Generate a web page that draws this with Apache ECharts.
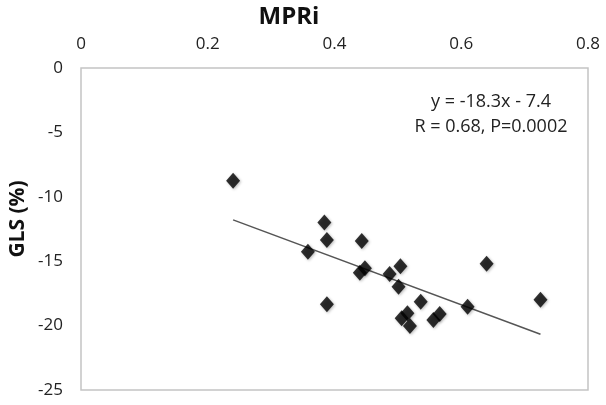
<!DOCTYPE html>
<html>
<head>
<meta charset="utf-8">
<script src="https://cdn.jsdelivr.net/npm/echarts@6/dist/echarts.min.js"></script>
<style>
  html, body { margin: 0; padding: 0; background: #fff; }
  #main { width: 606px; height: 405px; }
</style>
</head>
<body>
<div id="main"></div>
<script>
// MPRi values (x) and GLS % (y)
const mpri = [0.240, 0.384, 0.388, 0.443, 0.358, 0.440, 0.448, 0.487, 0.504, 0.501,
  0.388, 0.536, 0.640, 0.725, 0.610, 0.515, 0.506, 0.519, 0.566, 0.556];
const gls = [-8.75, -12.0, -13.35, -13.43, -14.26, -15.9, -15.55, -16.0, -15.4, -16.98,
  -18.35, -18.14, -15.2, -18.0, -18.53, -19.05, -19.43, -20.03, -19.1, -19.57];
const slope = -18.3;
const intercept = -7.4;
const xTicks = [0, 0.2, 0.4, 0.6, 0.8];
const yTicks = [0, -5, -10, -15, -20, -25];

const chart = echarts.init(document.getElementById('main'));

const xMin = Math.min(...mpri);
const xMax = Math.max(...mpri);
const fitLine = [xMin, xMax].map((x) => [x, slope * x + intercept]);

const font = 'Open Sans, sans-serif';

chart.setOption({
  animation: false,
  grid: {
    left: 81,
    right: 18,
    top: 68,
    bottom: 15,
    show: true,
    borderColor: '#c4c4c4',
    borderWidth: 1.5,
  },
  xAxis: {
    type: 'value',
    position: 'top',
    min: xTicks[0],
    max: xTicks[xTicks.length - 1],
    interval: 0.2,
    axisLine: { show: false },
    axisTick: { show: false },
    splitLine: { show: false },
    axisLabel: {
      fontFamily: font,
      fontSize: 17,
      color: '#222',
      margin: 15,
      formatter: (v) => String(Math.round(v * 10) / 10),
    },
  },
  yAxis: {
    type: 'value',
    min: yTicks[yTicks.length - 1],
    max: yTicks[0],
    interval: 5,
    axisLine: { show: false },
    axisTick: { show: false },
    splitLine: { show: false },
    axisLabel: { fontFamily: font, fontSize: 17, color: '#222', margin: 18 },
  },
  series: [
    {
      type: 'line',
      data: fitLine,
      symbol: 'none',
      lineStyle: { color: '#555', width: 1.5 },
      z: 1,
    },
    {
      type: 'scatter',
      data: mpri.map((x, i) => [x, gls[i]]),
      symbol: 'diamond',
      symbolSize: [14, 16],
      itemStyle: {
        color: '#000',
        shadowBlur: 3,
        shadowColor: 'rgba(0,0,0,0.35)',
        shadowOffsetX: 1,
        shadowOffsetY: 1,
      },
      z: 2,
    },
  ],
  graphic: [
    {
      type: 'text',
      x: 289,
      y: 17,
      style: {
        text: 'MPRi',
        font: 'bold 24px ' + font,
        fill: '#111',
        align: 'center',
        verticalAlign: 'middle',
      },
    },
    {
      type: 'text',
      x: 18,
      y: 219,
      rotation: Math.PI / 2,
      style: {
        text: 'GLS (%)',
        font: 'bold 21px ' + font,
        fill: '#111',
        align: 'center',
        verticalAlign: 'middle',
      },
    },
    {
      type: 'text',
      x: 491,
      y: 114,
      style: {
        text: 'y = -18.3x - 7.4\nR = 0.68, P=0.0002',
        font: '18px ' + font,
        fill: '#222',
        align: 'center',
        verticalAlign: 'middle',
        lineHeight: 25,
      },
    },
  ],
});
</script>
</body>
</html>
